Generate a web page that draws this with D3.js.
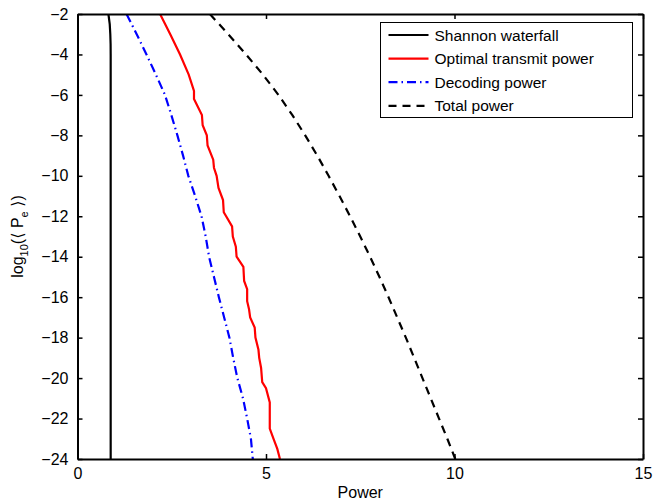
<!DOCTYPE html>
<html lang="en">
<head>
<meta charset="UTF-8">
<title>Power vs error probability</title>
<style>
  body { margin: 0; background: #fff; }
  svg { font-family: "Liberation Sans", Arial, sans-serif; }
</style>
</head>
<body>
<div id="chart"></div>
<script src="https://d3js.org/d3.v7.min.js"></script>
<script>
// values: y = log10(<Pe>), x = power
const shannonY = [-2, -2.5, -3, -3.5, -4, -24];
const shannonX = [0.82, 0.855, 0.87, 0.878, 0.88, 0.88];

const transmitY = [-2, -3, -4, -5, -5.8, -6.2, -7, -7.5, -8, -8.5, -9.2, -9.6, -10, -10.6, -11.2, -11.8,
  -12.5, -13, -13.5, -14, -14.5, -15.2, -15.6, -16.2, -16.6, -17, -17.5, -18, -18.6, -19, -19.5,
  -20.2, -20.5, -21.2, -22.5, -23, -23.5, -24];
const transmitX = [2.19, 2.46, 2.72, 2.95, 3.09, 3.09, 3.30, 3.32, 3.43, 3.45, 3.60, 3.62, 3.69, 3.74, 3.86, 3.88,
  4.10, 4.12, 4.20, 4.22, 4.40, 4.42, 4.50, 4.50, 4.55, 4.58, 4.70, 4.72, 4.80, 4.82, 4.87,
  4.90, 5.00, 5.10, 5.10, 5.20, 5.30, 5.37];

const levels = [-2, -3, -4, -5, -6, -7, -8, -9, -10, -11, -12, -13, -14, -15, -16, -17, -18, -19, -20, -21, -22, -23, -24];
const decodingX = [1.30, 1.57, 1.83, 2.08, 2.32, 2.49, 2.65, 2.80, 2.94, 3.12, 3.29, 3.40, 3.49, 3.62, 3.75, 3.89,
  4.03, 4.13, 4.24, 4.39, 4.50, 4.60, 4.65];
const totalX = [3.51, 4.00, 4.47, 4.92, 5.33, 5.70, 6.04, 6.36, 6.66, 6.95, 7.23, 7.50, 7.76, 8.01, 8.25, 8.48,
  8.71, 8.93, 9.15, 9.37, 9.59, 9.81, 10.02];

const xTicks = [0, 5, 10, 15];
const yTicks = [-2, -4, -6, -8, -10, -12, -14, -16, -18, -20, -22, -24];

const legendNames = ["Shannon waterfall", "Optimal transmit power", "Decoding power", "Total power"];

const svg = d3.select("#chart").append("svg").attr("width", 655).attr("height", 502);
const margin = {top: 14, right: 12, bottom: 43, left: 77.5};
const width = 655 - margin.left - margin.right;
const height = 502 - margin.top - margin.bottom;

const x = d3.scaleLinear().domain([0, 15]).range([0, width]);
const y = d3.scaleLinear().domain([-24, -2]).range([height, 0]);

const g = svg.append("g").attr("transform", "translate(" + margin.left + "," + margin.top + ")");

const defs = svg.append("defs");
defs.append("clipPath").attr("id", "clip").append("rect").attr("width", width).attr("height", height);

const line = d3.line().x(d => x(d[0])).y(d => y(d[1]));
const plot = g.append("g").attr("clip-path", "url(#clip)");

const series = [
  {xs: shannonX, ys: shannonY, color: "#000", dash: null},
  {xs: transmitX, ys: transmitY, color: "#ff0000", dash: null},
  {xs: decodingX, ys: levels, color: "#0000ff", dash: "9,4,1.5,4"},
  {xs: totalX, ys: levels, color: "#000", dash: "8,6"}
];

series.forEach(s => {
  plot.append("path")
    .datum(s.xs.map((v, i) => [v, s.ys[i]]))
    .attr("d", line)
    .attr("fill", "none")
    .attr("stroke", s.color)
    .attr("stroke-width", 2.2)
    .attr("stroke-dasharray", s.dash);
});

// axes, matlab style with inward ticks on all sides
const fontSize = 16;
const xb = g.append("g").attr("transform", "translate(0," + height + ")")
  .call(d3.axisBottom(x).tickValues(xTicks).tickSizeInner(-5).tickSizeOuter(0).tickPadding(9));
const xt = g.append("g")
  .call(d3.axisTop(x).tickValues(xTicks).tickSizeInner(-5).tickSizeOuter(0).tickFormat(""));
const yl = g.append("g")
  .call(d3.axisLeft(y).tickValues(yTicks).tickSizeInner(-5).tickSizeOuter(0).tickPadding(9)
    .tickFormat(d => String(d).replace("-", "\u2212")));
const yr = g.append("g").attr("transform", "translate(" + width + ",0)")
  .call(d3.axisRight(y).tickValues(yTicks).tickSizeInner(-5).tickSizeOuter(0).tickFormat(""));

[xb, xt, yl, yr].forEach(a => {
  a.select(".domain").attr("stroke", "#000").attr("stroke-width", 2);
  a.selectAll(".tick line").attr("stroke", "#000").attr("stroke-width", 1.5);
  a.selectAll("text").attr("fill", "#000").style("font-size", fontSize + "px")
    .style("font-family", "'Liberation Sans', Arial, sans-serif");
});
xb.selectAll("text").attr("dy", "0.71em");

// axis titles
svg.append("text")
  .attr("x", margin.left + width / 2)
  .attr("y", 498)
  .attr("text-anchor", "middle")
  .style("font-size", "16px")
  .text("Power");

const ylab = svg.append("text")
  .attr("transform", "translate(23," + (margin.top + height / 2) + ") rotate(-90)")
  .attr("text-anchor", "middle")
  .style("font-size", "16px");
ylab.append("tspan").text("log");
ylab.append("tspan").attr("dy", 5).style("font-size", "11px").text("10");
ylab.append("tspan").attr("dy", -5).text("(");
ylab.append("tspan").style("font-family", "'DejaVu Sans'").text("\u27E8");
ylab.append("tspan").text(" P");
ylab.append("tspan").attr("dy", 5).style("font-size", "11px").text("e");
ylab.append("tspan").attr("dy", -5).text(" ");
ylab.append("tspan").style("font-family", "'DejaVu Sans'").text("\u27E9");
ylab.append("tspan").text(")");

// legend
const leg = svg.append("g").attr("transform", "translate(380.5,22.5)");
leg.append("rect").attr("width", 252).attr("height", 95)
  .attr("fill", "#fff").attr("stroke", "#000").attr("stroke-width", 1);
legendNames.forEach((name, i) => {
  const yy = 12.5 + i * 23.6;
  leg.append("line").attr("x1", 8).attr("x2", 48).attr("y1", yy).attr("y2", yy)
    .attr("stroke", series[i].color).attr("stroke-width", 2.2)
    .attr("stroke-dasharray", series[i].dash);
  leg.append("text").attr("x", 54).attr("y", yy).attr("dy", "0.36em")
    .style("font-size", "15.5px").text(name);
});
</script>
</body>
</html>
